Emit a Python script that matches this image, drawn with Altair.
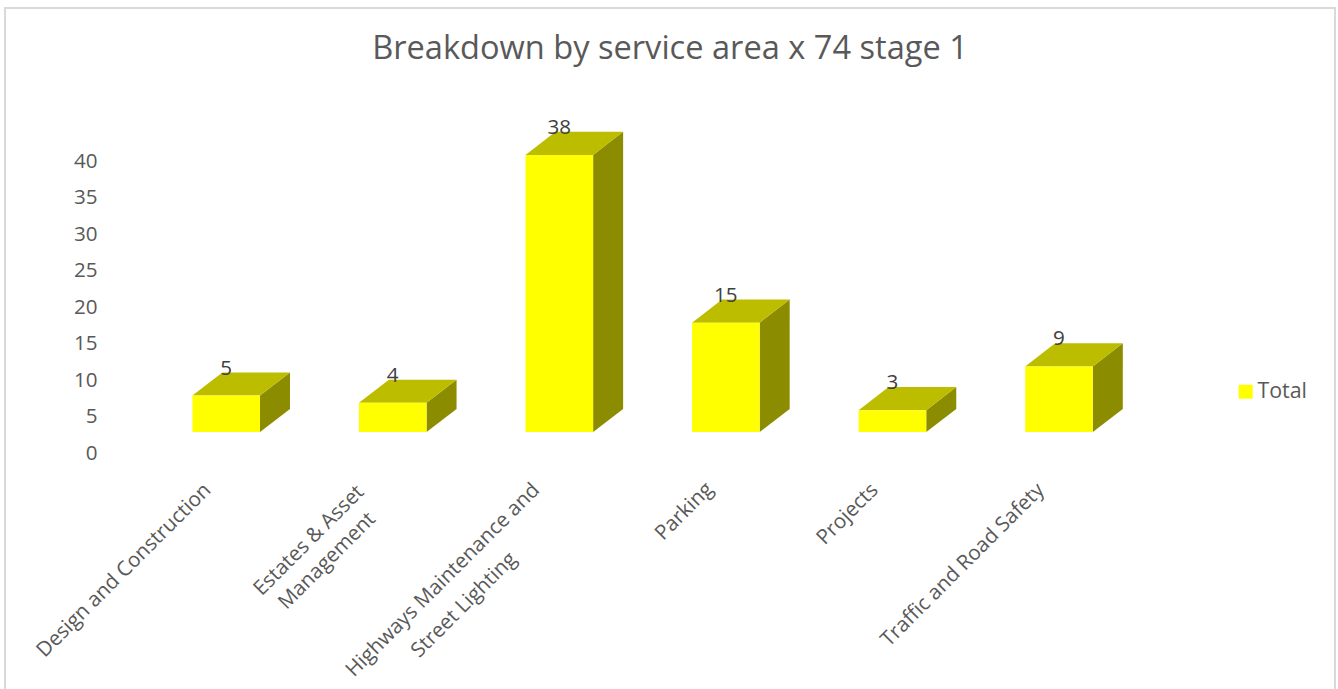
import altair as alt
import pandas as pd

# Chart values
categories = [
    "Design and Construction",
    "Estates & Asset Management",
    "Highways Maintenance and Street Lighting",
    "Parking",
    "Projects",
    "Traffic and Road Safety",
]
totals = [5, 4, 38, 15, 3, 9]
axis_ticks = [0, 5, 10, 15, 20, 25, 30, 35, 40]
series_name = "Total"
title_text = "Breakdown by service area x 74 stage 1"

# Category labels, broken into lines: text, category index, screen shift x and y
label_lines = [
    ("Design and Construction", 0, -18.5, 0),
    ("Estates & Asset", 1, -32, 2),
    ("Management", 1, -20.5, 29),
    ("Highways Maintenance and", 2, -23, 0),
    ("Street Lighting", 2, -46, 69),
    ("Parking", 3, -16, -1),
    ("Projects", 4, -17.5, 0),
    ("Traffic and Road Safety", 5, -18, 0),
]

# Box geometry in axis units
half_width = 0.203
depth_x = 0.18
depth_y = 3.17

FONT = "Open Sans"
TEXT = "#595959"
LABEL_SIZE = 20.6
x_scale = alt.Scale(domain=[0, 5], range=[226.2, 1059])
bar_y_scale = alt.Scale(domain=[0, 40], range=[432, 140.4])
axis_y_scale = alt.Scale(domain=[0, 40], range=[453, 161])

front = pd.DataFrame({
    "category": categories,
    "pos": range(len(categories)),
    "total": totals,
    "series": series_name,
})
front["left"] = front["pos"] - half_width
front["right"] = front["pos"] + half_width

side_rows, top_rows = [], []
for i, v in enumerate(totals):
    l, r = i - half_width, i + half_width
    side_rows += [
        {"pos": i, "x": r, "y": v, "y2": 0},
        {"pos": i, "x": r + depth_x, "y": v + depth_y, "y2": depth_y},
    ]
    top_rows += [
        {"pos": i, "x": l, "y": v, "y2": v},
        {"pos": i, "x": l + depth_x, "y": v + depth_y, "y2": v},
        {"pos": i, "x": r, "y": v + depth_y, "y2": v},
        {"pos": i, "x": r + depth_x, "y": v + depth_y, "y2": v + depth_y},
    ]
side = pd.DataFrame(side_rows)
top = pd.DataFrame(top_rows)


def face(frame, colour):
    return alt.Chart(frame).mark_area(color=colour).encode(
        x=alt.X("x:Q", scale=x_scale, axis=None),
        y=alt.Y("y:Q", scale=bar_y_scale, axis=None),
        y2="y2:Q",
        detail="pos:N",
    )


layers = []

# Frame around the chart; it runs off the bottom edge
for enc in [
    dict(x=alt.value(5), y=alt.value(8), y2=alt.value(689)),
    dict(x=alt.value(1335), y=alt.value(8), y2=alt.value(689)),
    dict(y=alt.value(8), x=alt.value(4), x2=alt.value(1336)),
]:
    layers.append(
        alt.Chart(front).mark_rule(color="#d9d9d9", strokeWidth=2).encode(**enc)
    )

# Value axis, set lower than the boxes as the floor of the 3D plot
layers.append(
    alt.Chart(pd.DataFrame({"tick": axis_ticks})).mark_point(opacity=0).encode(
        y=alt.Y(
            "tick:Q",
            scale=axis_y_scale,
            axis=alt.Axis(
                orient="left", values=axis_ticks, title=None, domain=False,
                ticks=False, grid=False, offset=-98, labelPadding=1,
                labelFont=FONT, labelFontSize=LABEL_SIZE, labelColor=TEXT,
            ),
        )
    )
)

layers.append(face(side, "#8c8c00"))
layers.append(face(top, "#bdbd00"))

layers.append(
    alt.Chart(front).mark_bar().encode(
        x=alt.X("left:Q", scale=x_scale, axis=None),
        x2="right:Q",
        y=alt.Y("total:Q", scale=bar_y_scale, axis=None),
        y2=alt.datum(0),
        color=alt.Color(
            "series:N",
            scale=alt.Scale(domain=[series_name], range=["#ffff00"]),
            legend=alt.Legend(
                orient="none", legendX=1235, legendY=381, title=None,
                symbolType="square", symbolSize=196, symbolStrokeWidth=0,
                labelFont=FONT, labelFontSize=21.4, labelColor=TEXT, labelOffset=1,
            ),
        ),
    )
)

layers.append(
    alt.Chart(front).mark_text(
        font=FONT, fontSize=LABEL_SIZE, color="#404040", dy=-27, baseline="middle"
    ).encode(
        x=alt.X("pos:Q", scale=x_scale, axis=None),
        y=alt.Y("total:Q", scale=bar_y_scale, axis=None),
        text="total:Q",
    )
)

# Rotated category labels, one text layer per line
for text, idx, sx, sy in label_lines:
    along = 0.7071 * (sx - sy)
    across = 0.7071 * (sx + sy)
    layers.append(
        alt.Chart(pd.DataFrame({"pos": [idx], "label": [text]})).mark_text(
            font=FONT, fontSize=LABEL_SIZE, color=TEXT, angle=315, align="right",
            baseline="middle", dx=along, dy=across,
        ).encode(
            x=alt.X("pos:Q", scale=x_scale, axis=None),
            y=alt.value(487),
            text="label:N",
        )
    )

chart = (
    alt.layer(*layers)
    .resolve_scale(y="independent")
    .properties(
        width=1338,
        height=689,
        padding=0,
        autosize="none",
        background="white",
        title=alt.TitleParams(
            title_text, font=FONT, fontSize=32.6, fontWeight="normal",
            color=TEXT, anchor="middle", dy=70, dx=1,
        ),
    )
    .configure_view(stroke=None)
)

chart.save("out.html", embed_options={"renderer": "svg", "actions": False})
